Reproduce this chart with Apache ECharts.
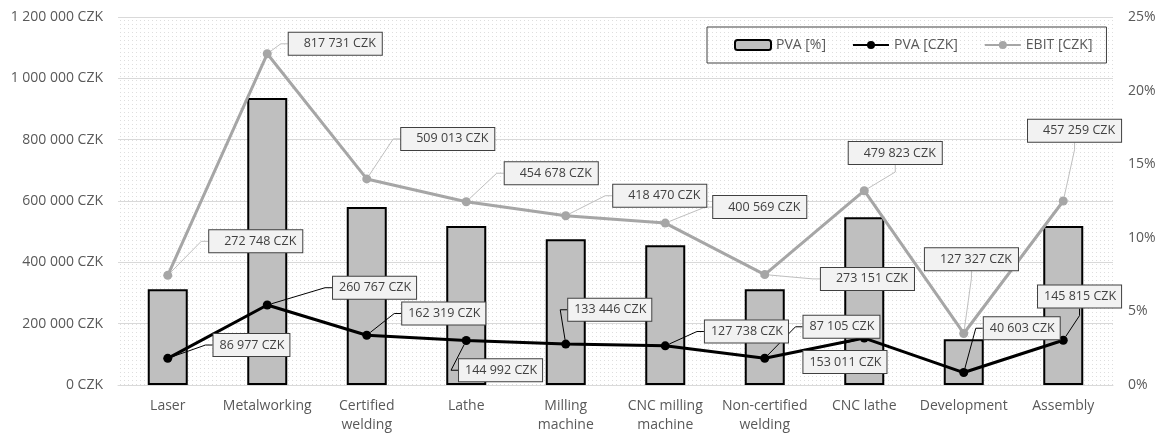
<!DOCTYPE html>
<html>
<head>
<meta charset="utf-8">
<script src="https://cdn.jsdelivr.net/npm/echarts@6/dist/echarts.min.js"></script>
<style>
html,body{margin:0;padding:0;background:#fff;}
#chart{width:1161px;height:435px;}
</style>
</head>
<body>
<div id="chart"></div>
<script>
// ---- data ----
const categories = ['Laser', 'Metalworking', 'Certified\nwelding', 'Lathe', 'Milling\nmachine',
  'CNC milling\nmachine', 'Non-certified\nwelding', 'CNC lathe', 'Development', 'Assembly'];
const pvaPct = [6.5, 19.5, 12.1, 10.8, 9.9, 9.5, 6.5, 11.4, 3.1, 10.8];          // bars, right axis [%]
const pvaCzk = [86977, 260767, 162319, 144992, 133446, 127738, 87105, 153011, 40603, 145815]; // left axis
const ebitPlot = [7.45, 22.5, 14.0, 12.45, 11.5, 11.0, 7.5, 13.2, 3.5, 12.5];    // plotted on right axis
const ebitCzk = [272748, 817731, 509013, 454678, 418470, 400569, 273151, 479823, 127327, 457259]; // label values
const leftTicks = {min: 0, max: 1200000, interval: 200000};
const rightTicks = {min: 0, max: 25, interval: 5};

// ---- label offsets (label centre relative to point) ----
const ebitOff = [[88,-34],[68,-10],[81,-40],[85,-28.5],[94,-20],[94.5,-16],[102.7,4.3],[31,-37.7],[7.7,-74.3],[11.3,-70.2]];
const pvaOff = [[83.7,-13.3],[107.3,-17.3],[77,-21.7],[34.3,29.7],[44,-34.3],[81.2,-14.3],[76.7,-31.5],[-19.3,24],[58,-44.3],[16.3,-43.7]];

function fmt(v) {
  return String(v).replace(/\B(?=(\d{3})+(?!\d))/g, ' ') + ' CZK';
}

// dotted background pattern
const pc = document.createElement('canvas');
pc.width = 4; pc.height = 4;
const pctx = pc.getContext('2d');
pctx.fillStyle = '#ffffff'; pctx.fillRect(0,0,4,4);
pctx.fillStyle = '#dedede'; pctx.fillRect(0,0,1,1);

const FONT = 'Open Sans';
const chart = echarts.init(document.getElementById('chart'));
const labelBase = {
  show: true,
  position: 'inside',
  fontFamily: FONT,
  fontSize: 12.5,
  lineHeight: 14,
  color: '#404040',
  backgroundColor: '#f2f2f2',
  borderColor: '#404040',
  borderWidth: 1,
  textBorderWidth: 0
};
chart.setOption({
  animation: false,
  textStyle: {fontFamily: FONT},
  grid: {left: 118, right: 48, top: 17, bottom: 49, show: true, borderWidth: 0,
    backgroundColor: {image: pc, repeat: 'repeat'}},
  legend: {
    left: 707, top: 27,
    padding: [11, 14, 11, 27],
    backgroundColor: 'transparent',
    borderColor: '#404040', borderWidth: 1, borderRadius: 0,
    itemWidth: 36, itemHeight: 10, itemGap: 26,
    textStyle: {fontFamily: FONT, fontSize: 14, color: '#595959'},
    data: ['PVA [%]', 'PVA [CZK]', 'EBIT [CZK]']
  },
  xAxis: {
    type: 'category',
    data: categories,
    axisLine: {lineStyle: {color: '#d9d9d9', width: 1}},
    axisTick: {show: false},
    axisLabel: {fontFamily: FONT, fontSize: 14, color: '#595959', margin: 12, lineHeight: 19, interval: 0}
  },
  yAxis: [
    {
      type: 'value', min: leftTicks.min, max: leftTicks.max, interval: leftTicks.interval,
      axisLine: {show: false}, axisTick: {show: false},
      splitLine: {lineStyle: {color: '#d9d9d9', width: 1}},
      axisLabel: {fontFamily: FONT, fontSize: 14, color: '#595959', margin: 15, formatter: v => fmt(v)}
    },
    {
      type: 'value', min: rightTicks.min, max: rightTicks.max, interval: rightTicks.interval,
      axisLine: {show: false}, axisTick: {show: false}, splitLine: {show: false},
      axisLabel: {fontFamily: FONT, fontSize: 14, color: '#595959', margin: 15, formatter: '{value}%'}
    }
  ],
  series: [
    {
      name: 'PVA [%]', type: 'bar', yAxisIndex: 1, data: pvaPct, barWidth: 40,
      itemStyle: {color: '#bfbfbf', borderColor: '#000000', borderWidth: 2},
      z: 1
    },
    {
      name: 'PVA [CZK]', type: 'line', yAxisIndex: 0, data: pvaCzk,
      symbol: 'circle', symbolSize: 9,
      lineStyle: {color: '#000000', width: 3},
      itemStyle: {color: '#000000'},
      label: Object.assign({}, labelBase, {
        padding: [4, 5, 4, 6],
        formatter: p => fmt(pvaCzk[p.dataIndex])
      }),
      labelLine: {show: true, length2: 7, lineStyle: {color: '#000000', width: 1}},
      labelLayout: p => ({dx: pvaOff[p.dataIndex][0], dy: pvaOff[p.dataIndex][1]}),
      z: 4
    },
    {
      name: 'EBIT [CZK]', type: 'line', yAxisIndex: 1, data: ebitPlot,
      symbol: 'circle', symbolSize: 9,
      lineStyle: {color: '#a6a6a6', width: 3},
      itemStyle: {color: '#a6a6a6'},
      label: Object.assign({}, labelBase, {
        padding: [4, 6, 4, 15],
        formatter: p => fmt(ebitCzk[p.dataIndex])
      }),
      labelLine: {show: true, length2: 7, lineStyle: {color: '#bfbfbf', width: 1}},
      labelLayout: p => ({dx: ebitOff[p.dataIndex][0], dy: ebitOff[p.dataIndex][1]}),
      z: 3
    }
  ]
});
</script>
</body>
</html>
